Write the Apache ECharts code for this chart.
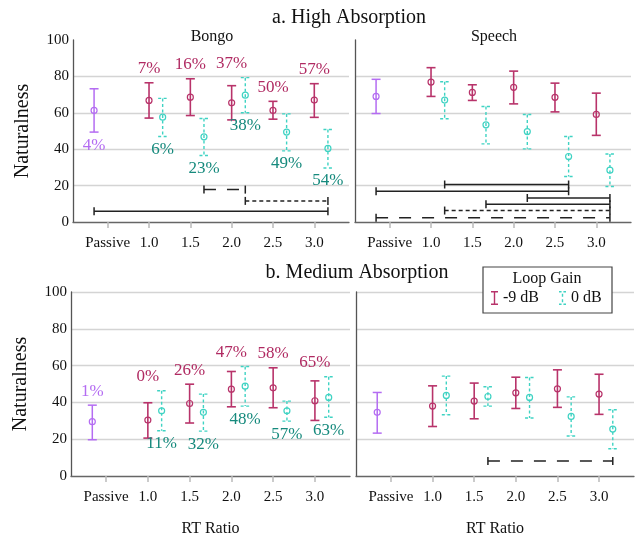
<!DOCTYPE html>
<html>
<head>
<meta charset="utf-8">
<title>Naturalness vs RT Ratio</title>
<script src="https://cdn.jsdelivr.net/npm/echarts@6/dist/echarts.min.js"></script>
<style>
  html, body { margin: 0; padding: 0; background: #fff; }
  #main { width: 637px; height: 538px; }
</style>
</head>
<body>
<div id="main"></div>
<script>
const categories = ['Passive', '1.0', '1.5', '2.0', '2.5', '3.0'];

// a. High Absorption - Bongo  (passive = [mean, low, high])
const hbPassive = [61.3, 49.4, 73.2];
const hbM9Mean = [66.8, 68.6, 65.5, 61.3, 67.0];
const hbM9Low = [57.1, 58.5, 56.1, 56.5, 57.5];
const hbM9High = [76.5, 78.7, 74.9, 66.3, 76.0];
const hbG0Mean = [57.6, 46.8, 69.7, 49.4, 40.4];
const hbG0Low = [47.0, 36.5, 60.0, 39.1, 29.7];
const hbG0High = [67.9, 56.9, 79.3, 59.4, 50.8];
const hbPassivePct = ['4%'];
const hbM9Pct = ['7%', '16%', '37%', '50%', '57%'];
const hbG0Pct = ['6%', '23%', '38%', '49%', '54%'];
// significance brackets: [from, to, level, line]
const hbSig = [
  ['Passive', '3.0/0', 5.9, 'solid'],
  ['1.5/0', '2.0/0', 17.8, 'long'],
  ['2.0/0', '3.0/0', 11.6, 'short']
];

// a. High Absorption - Speech
const hsPassive = [69.0, 59.6, 78.4];
const hsM9Mean = [76.9, 71.2, 74.0, 68.5, 59.1];
const hsM9Low = [69.0, 66.8, 64.9, 60.5, 47.6];
const hsM9High = [84.8, 75.4, 82.9, 76.3, 70.8];
const hsG0Mean = [67.0, 53.4, 49.7, 36.0, 28.5];
const hsG0Low = [56.7, 42.9, 40.2, 25.0, 19.5];
const hsG0High = [77.1, 63.5, 59.1, 47.0, 37.4];
const hsSig = [
  ['1.0/0', '2.5/0', 20.6, 'solid'],
  ['Passive', '2.5/0', 16.9, 'solid'],
  ['2.0/0', '3.0/0', 13.2, 'solid'],
  ['1.5/0', '3.0/0', 9.7, 'solid'],
  ['1.0/0', '3.0/0', 6.3, 'short'],
  ['Passive', '3.0/0', 2.4, 'long']
];

// b. Medium Absorption - Bongo
const mbPassive = [29.5, 19.7, 38.5];
const mbM9Mean = [30.4, 39.4, 47.2, 47.9, 40.9];
const mbM9Low = [20.6, 28.8, 37.6, 37.1, 30.2];
const mbM9High = [39.8, 49.9, 56.8, 58.8, 51.7];
const mbG0Mean = [35.4, 34.6, 48.8, 35.4, 42.7];
const mbG0Low = [24.6, 24.4, 38.0, 29.8, 31.9];
const mbG0High = [46.3, 44.5, 59.5, 40.7, 53.9];
const mbPassivePct = ['1%'];
const mbM9Pct = ['0%', '26%', '47%', '58%', '65%'];
const mbG0Pct = ['11%', '32%', '48%', '57%', '63%'];
const mbSig = [];

// b. Medium Absorption - Speech
const msPassive = [34.6, 23.3, 45.4];
const msM9Mean = [38.0, 40.7, 45.2, 47.4, 44.5];
const msM9Low = [26.9, 31.1, 36.7, 37.3, 33.5];
const msM9High = [49.0, 50.5, 53.7, 57.7, 55.3];
const msG0Mean = [43.8, 43.2, 42.7, 32.4, 25.5];
const msG0Low = [33.3, 38.0, 31.5, 21.7, 14.8];
const msG0High = [54.3, 48.5, 53.5, 43.0, 36.0];
const msSig = [['1.5/0', '3.0/0', 8.1, 'long']];

const FONT = '"Liberation Serif", "DejaVu Serif", serif';
const C_M9 = '#b8336a', C_G0 = '#3fd3c3', C_P = '#b46cf2';
const T_M9 = '#b02a62', T_G0 = '#168a7d';
const OFF = 0.33;
const DASH = { solid: null, long: [12, 11], short: [4, 3] };

// position of a condition on the x axis ('Passive', '2.0/-9', '2.0/0')
function pos(key) {
  if (key === 'Passive') return -OFF;
  const p = key.split('/');
  return categories.indexOf(p[0]) + (p[1] === '0' ? OFF : 0);
}

function barRenderer(o) {
  return function (params, api) {
    const x = api.value(0);
    const top = api.coord([x, api.value(3)]);
    const bot = api.coord([x, api.value(2)]);
    const mid = api.coord([x, api.value(1)]);
    const st = { stroke: o.color, lineWidth: o.width, lineDash: o.dashed ? [3, 2.5] : null, fill: null };
    const cap = 4.5;
    const kids = [
      { type: 'line', shape: { x1: top[0], y1: top[1], x2: bot[0], y2: bot[1] }, style: st },
      { type: 'line', shape: { x1: top[0] - cap, y1: top[1], x2: top[0] + cap, y2: top[1] }, style: st },
      { type: 'line', shape: { x1: bot[0] - cap, y1: bot[1], x2: bot[0] + cap, y2: bot[1] }, style: st },
      { type: 'circle', shape: { cx: mid[0], cy: mid[1], r: 3 }, style: { stroke: o.color, lineWidth: 1.2, fill: null } }
    ];
    if (o.labels) {
      const i = params.dataIndex;
      let y;
      if (o.above) {
        const ref = o.anchor ? Math.max(api.value(3), o.anchor[i]) : api.value(3);
        y = api.coord([x, ref])[1] - 14;
      } else {
        y = bot[1] + 13;
      }
      kids.push({
        type: 'text',
        style: { text: o.labels[i], x: top[0], y: y, align: 'center', verticalAlign: 'middle',
                 fill: o.labelColor, fontSize: 17, fontFamily: FONT }
      });
    }
    return { type: 'group', children: kids };
  };
}

function sigRenderer(lines) {
  return function (params, api) {
    const a = api.coord([api.value(0), api.value(2)]);
    const b = api.coord([api.value(1), api.value(2)]);
    const st = { stroke: '#222', lineWidth: 1.5, lineDash: DASH[lines[params.dataIndex]] };
    const cs = { stroke: '#222', lineWidth: 1.5 };
    return { type: 'group', children: [
      { type: 'line', shape: { x1: a[0], y1: a[1], x2: b[0], y2: b[1] }, style: st },
      { type: 'line', shape: { x1: a[0], y1: a[1] - 4, x2: a[0], y2: a[1] + 4 }, style: cs },
      { type: 'line', shape: { x1: b[0], y1: b[1] - 4, x2: b[0], y2: b[1] + 4 }, style: cs }
    ] };
  };
}

const panels = [
  { passive: hbPassive, m9: [hbM9Mean, hbM9Low, hbM9High], g0: [hbG0Mean, hbG0Low, hbG0High],
    pPct: hbPassivePct, pAbove: false, m9Pct: hbM9Pct, g0Pct: hbG0Pct, sig: hbSig },
  { passive: hsPassive, m9: [hsM9Mean, hsM9Low, hsM9High], g0: [hsG0Mean, hsG0Low, hsG0High], sig: hsSig },
  { passive: mbPassive, m9: [mbM9Mean, mbM9Low, mbM9High], g0: [mbG0Mean, mbG0Low, mbG0High],
    pPct: mbPassivePct, pAbove: true, m9Pct: mbM9Pct, g0Pct: mbG0Pct, sig: mbSig },
  { passive: msPassive, m9: [msM9Mean, msM9Low, msM9High], g0: [msG0Mean, msG0Low, msG0High], sig: msSig }
];

const grids = [
  { left: 73, top: 40, width: 276, height: 182 },
  { left: 355, top: 40, width: 276, height: 182 },
  { left: 71, top: 292, width: 279, height: 184 },
  { left: 356, top: 292, width: 278, height: 184 }
];

const tickVals = [0, 1, 2, 3, 4, 5];
const xAxes = grids.map((g, i) => ({
  type: 'value', gridIndex: i, min: -0.84, max: 5.84,
  axisLine: { show: true, onZero: false, lineStyle: { color: '#666', width: 1.3 } },
  axisTick: { show: true, customValues: tickVals, length: 6, lineStyle: { color: '#bbb', width: 1.5 } },
  axisLabel: { customValues: tickVals, formatter: v => categories[Math.round(v)], margin: 14,
               fontSize: 15, fontFamily: FONT, color: '#111' },
  splitLine: { show: false },
  name: i >= 2 ? 'RT Ratio' : '', nameLocation: 'middle', nameGap: 45,
  nameTextStyle: { fontSize: 16, fontFamily: FONT, color: '#111' }
}));
const yAxes = grids.map((g, i) => ({
  type: 'value', gridIndex: i, min: 0, max: 100, interval: 20,
  axisLine: { show: true, onZero: false, lineStyle: { color: '#555', width: 1.3 } },
  axisTick: { show: false },
  axisLabel: { show: i % 2 === 0, margin: 4, fontSize: 15, fontFamily: FONT, color: '#111' },
  splitLine: { show: true, showMinLine: false, showMaxLine: i >= 2, lineStyle: { color: '#d4d4d4', width: 1.3 } },
  name: i % 2 === 0 ? 'Naturalness' : '', nameLocation: 'middle', nameGap: 40,
  nameTextStyle: { fontSize: 20, fontFamily: FONT, color: '#111' }
}));

const series = [];
panels.forEach((p, i) => {
  const idx = { xAxisIndex: i, yAxisIndex: i };
  series.push(Object.assign({
    type: 'custom', name: 'Passive', itemStyle: { color: C_P }, encode: { x: 0, y: [1, 2, 3] },
    data: [[-OFF, p.passive[0], p.passive[1], p.passive[2]]],
    renderItem: barRenderer({ color: C_P, width: 1.5, labels: p.pPct, above: p.pAbove, labelColor: C_P })
  }, idx));
  series.push(Object.assign({
    type: 'custom', name: '-9 dB', itemStyle: { color: C_M9 }, encode: { x: 0, y: [1, 2, 3] },
    data: p.m9[0].map((m, k) => [k + 1, m, p.m9[1][k], p.m9[2][k]]),
    renderItem: barRenderer({ color: C_M9, width: 1.6, labels: p.m9Pct, above: true, anchor: p.g0[2], labelColor: T_M9 })
  }, idx));
  series.push(Object.assign({
    type: 'custom', name: '0 dB', itemStyle: { color: C_G0 }, encode: { x: 0, y: [1, 2, 3] },
    data: p.g0[0].map((m, k) => [k + 1 + OFF, m, p.g0[1][k], p.g0[2][k]]),
    renderItem: barRenderer({ color: C_G0, width: 1.4, dashed: true, labels: p.g0Pct, above: false, labelColor: T_G0 })
  }, idx));
  if (p.sig.length) {
    series.push(Object.assign({
      type: 'custom', name: 'sig', encode: { x: [0, 1], y: 2 },
      data: p.sig.map(s => [pos(s[0]), pos(s[1]), s[2]]),
      renderItem: sigRenderer(p.sig.map(s => s[3]))
    }, idx));
  }
});

const titleStyle = (size) => ({ fontSize: size, fontWeight: 'normal', fontFamily: FONT, color: '#111' });

const chart = echarts.init(document.getElementById('main'));
chart.setOption({
  animation: false,
  backgroundColor: '#fff',
  title: [
    { text: 'a. High Absorption', left: 349, top: 8, textAlign: 'center', padding: 0, textStyle: titleStyle(20) },
    { text: 'b. Medium Absorption', left: 349, top: 262, textAlign: 'center', padding: [1, 8],
      backgroundColor: '#fff', textStyle: titleStyle(20) },
    { text: 'Bongo', left: 212, top: 29, textAlign: 'center', padding: 0, textStyle: titleStyle(16) },
    { text: 'Speech', left: 494, top: 29, textAlign: 'center', padding: 0, textStyle: titleStyle(16) }
  ],
  legend: {
    left: 491, top: 290, padding: 0, itemWidth: 7, itemHeight: 14, itemGap: 20, z: 20,
    selectedMode: false,
    data: [
      { name: '-9 dB', icon: 'path://M0,0H6V1.2H3.6V10.8H6V12H0V10.8H2.4V1.2H0Z' },
      { name: '0 dB', icon: 'path://M0,0H2.2V1.2H0Z M3.8,0H6V1.2H3.8Z M2.4,2.4H3.6V5H2.4Z M2.4,7H3.6V9.6H2.4Z M0,10.8H2.2V12H0Z M3.8,10.8H6V12H3.8Z' }
    ],
    textStyle: { fontSize: 16, fontFamily: FONT, color: '#111' }
  },
  graphic: [
    { type: 'rect', z: 10, shape: { x: 483, y: 267, width: 129, height: 46 },
      style: { fill: '#fff', stroke: '#444', lineWidth: 1.2 } },
    { type: 'text', z: 21, style: { text: 'Loop Gain', x: 547, y: 279, align: 'center', verticalAlign: 'middle',
      fontSize: 16, fontFamily: FONT, fill: '#111' } }
  ],
  grid: grids,
  xAxis: xAxes,
  yAxis: yAxes,
  series: series
});
</script>
</body>
</html>
